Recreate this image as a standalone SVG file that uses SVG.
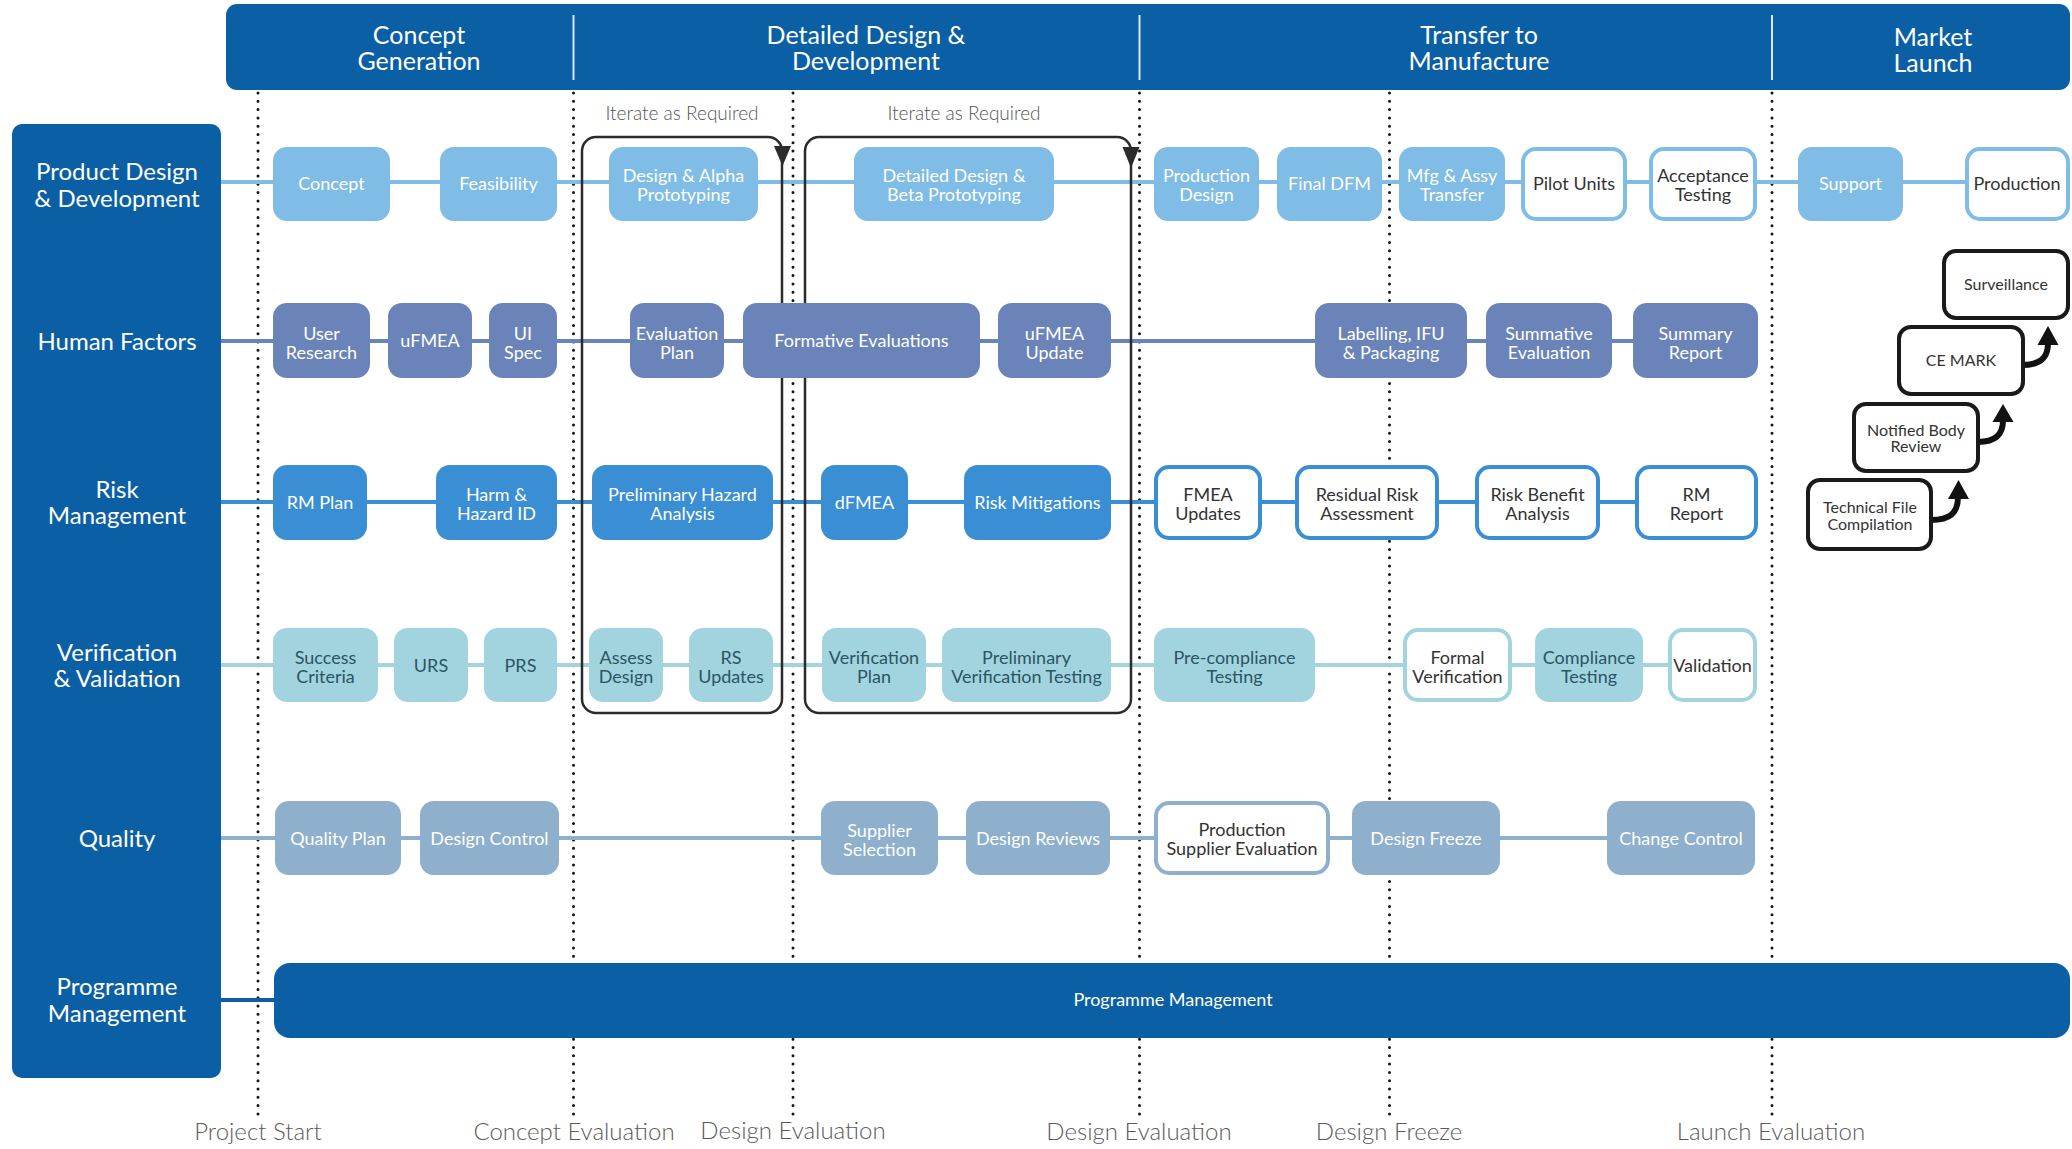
<svg xmlns="http://www.w3.org/2000/svg" width="2072" height="1149" viewBox="0 0 2072 1149">
<style>
text{font-family:Lato,"Open Sans","Liberation Sans",sans-serif;text-anchor:middle}
.hd{fill:#fff;font-size:25px}
.ln{fill:#fff;font-size:24px}
.ms{fill:#5a5a5a;font-size:24px;font-weight:300}
.it{fill:#555;font-size:19px;font-weight:300}
.tw{fill:#fff;font-size:18px}
.tk{fill:#333;font-size:18px}
.tt{fill:#2b5563;font-size:18px}
.tc{fill:#333;font-size:16px}
.dot{stroke:#151515;stroke-width:3;stroke-linecap:round;stroke-dasharray:0 8.3;fill:none}
.f1{fill:#7fbce6}.f2{fill:#6a84ba}.f3{fill:#3a8ed3}.f4{fill:#a2d4e0}.f5{fill:#8eb0cc}
.w1{fill:#fff;stroke:#7fbce6;stroke-width:4}
.w3{fill:#fff;stroke:#3a8ed3;stroke-width:4}
.w4{fill:#fff;stroke:#a2d4e0;stroke-width:4}
.w5{fill:#fff;stroke:#8eb0cc;stroke-width:4}
.wk{fill:#fff;stroke:#1a1a1a;stroke-width:4}
.iter{fill:none;stroke:#2b2b2b;stroke-width:2.5}
.row{stroke-width:4;fill:none}
</style>

<!-- header -->
<g id="header">
<rect x="226" y="4" width="1844" height="86" rx="11" fill="#0b5fa5"/>
<line x1="573.5" y1="15" x2="573.5" y2="80" stroke="#d8e8f4" stroke-width="2"/>
<line x1="1139.5" y1="15" x2="1139.5" y2="80" stroke="#d8e8f4" stroke-width="2"/>
<line x1="1772" y1="15" x2="1772" y2="80" stroke="#d8e8f4" stroke-width="2"/>
<text class="hd" x="419" y="44">Concept</text><text class="hd" x="419" y="70">Generation</text>
<text class="hd" x="866" y="44">Detailed Design &amp;</text><text class="hd" x="866" y="70">Development</text>
<text class="hd" x="1479" y="44">Transfer to</text><text class="hd" x="1479" y="70">Manufacture</text>
<text class="hd" x="1933" y="46">Market</text><text class="hd" x="1933" y="72">Launch</text>
</g>

<!-- lane labels -->
<g id="lanes">
<rect x="12" y="124" width="209" height="954" rx="10" fill="#0b5fa5"/>
<text class="ln" x="117" y="180">Product Design</text><text class="ln" x="117" y="207">&amp; Development</text>
<text class="ln" x="117" y="350">Human Factors</text>
<text class="ln" x="117" y="498">Risk</text><text class="ln" x="117" y="524">Management</text>
<text class="ln" x="117" y="661">Verification</text><text class="ln" x="117" y="687">&amp; Validation</text>
<text class="ln" x="117" y="847">Quality</text>
<text class="ln" x="117" y="995">Programme</text><text class="ln" x="117" y="1022">Management</text>
</g>

<!-- milestones -->
<g id="milestones">
<line class="dot" x1="258" y1="93" x2="258" y2="1117"/>
<line class="dot" x1="573.5" y1="93" x2="573.5" y2="1117"/>
<line class="dot" x1="793" y1="93" x2="793" y2="1117"/>
<line class="dot" x1="1139.5" y1="93" x2="1139.5" y2="1117"/>
<line class="dot" x1="1389.5" y1="93" x2="1389.5" y2="1117"/>
<line class="dot" x1="1772" y1="93" x2="1772" y2="1117"/>
<text class="ms" x="258" y="1140">Project Start</text>
<text class="ms" x="574" y="1140">Concept Evaluation</text>
<text class="ms" x="793" y="1139">Design Evaluation</text>
<text class="ms" x="1139" y="1140">Design Evaluation</text>
<text class="ms" x="1389" y="1140">Design Freeze</text>
<text class="ms" x="1771" y="1140">Launch Evaluation</text>
</g>

<!-- connectors -->
<g id="connectors">
<line class="row" x1="221" y1="182" x2="1970" y2="182" stroke="#7fbce6"/>
<line class="row" x1="221" y1="341" x2="1640" y2="341" stroke="#6a84ba"/>
<line class="row" x1="221" y1="502" x2="1640" y2="502" stroke="#3a8ed3"/>
<line class="row" x1="221" y1="665" x2="1670" y2="665" stroke="#a2d4e0"/>
<line class="row" x1="221" y1="838" x2="1610" y2="838" stroke="#8eb0cc"/>
<line class="row" x1="221" y1="1000" x2="276" y2="1000" stroke="#0b5fa5" stroke-width="5"/>
<rect class="iter" x="582" y="137" width="200" height="576" rx="14"/>
<polygon points="774,146 791,146 782.5,166" fill="#2b2b2b"/>
<rect class="iter" x="805" y="137" width="326" height="576" rx="14"/>
<polygon points="1122.5,147 1139.5,147 1131,168" fill="#2b2b2b"/>
<text class="it" x="682" y="120">Iterate as Required</text>
<text class="it" x="964" y="120">Iterate as Required</text>
<path d="M1931 520 C1950 520 1958 513 1958 497" fill="none" stroke="#111" stroke-width="6"/>
<polygon points="1948,499 1969,499 1958.5,480" fill="#111"/>
<path d="M1978 442 C1995 442 2003 435 2003 420" fill="none" stroke="#111" stroke-width="6"/>
<polygon points="1992.5,422 2013.5,422 2003,404" fill="#111"/>
<path d="M2023 365 C2040 365 2048 358 2048 343" fill="none" stroke="#111" stroke-width="6"/>
<polygon points="2037.5,345 2058.5,345 2048,326" fill="#111"/>
</g>

<!-- Row 1: Product Design & Development -->
<g id="concept"><rect class="f1" x="273" y="147" width="117" height="74" rx="14"/><text class="tw" x="331.5" y="190">Concept</text></g>
<g id="feasibility"><rect class="f1" x="440" y="147" width="117" height="74" rx="14"/><text class="tw" x="498.5" y="190">Feasibility</text></g>
<g id="alpha"><rect class="f1" x="609" y="147" width="149" height="74" rx="14"/><text class="tw" x="683.5" y="182">Design &amp; Alpha</text><text class="tw" x="683.5" y="201">Prototyping</text></g>
<g id="beta"><rect class="f1" x="854" y="147" width="200" height="74" rx="14"/><text class="tw" x="954" y="182">Detailed Design &amp;</text><text class="tw" x="954" y="201">Beta Prototyping</text></g>
<g id="proddesign"><rect class="f1" x="1154" y="147" width="105" height="74" rx="14"/><text class="tw" x="1206.5" y="182">Production</text><text class="tw" x="1206.5" y="201">Design</text></g>
<g id="finaldfm"><rect class="f1" x="1277" y="147" width="105" height="74" rx="14"/><text class="tw" x="1329.5" y="190">Final DFM</text></g>
<g id="mfg"><rect class="f1" x="1399" y="147" width="106" height="74" rx="14"/><text class="tw" x="1452" y="182">Mfg &amp; Assy</text><text class="tw" x="1452" y="201">Transfer</text></g>
<g id="pilot"><rect class="w1" x="1523" y="149" width="102" height="70" rx="13"/><text class="tk" x="1574" y="190">Pilot Units</text></g>
<g id="acceptance"><rect class="w1" x="1651" y="149" width="104" height="70" rx="13"/><text class="tk" x="1703" y="182">Acceptance</text><text class="tk" x="1703" y="201">Testing</text></g>
<g id="support"><rect class="f1" x="1798" y="147" width="105" height="74" rx="14"/><text class="tw" x="1850.5" y="190">Support</text></g>
<g id="production"><rect class="w1" x="1967" y="149" width="101" height="70" rx="13"/><text class="tk" x="2017" y="190">Production</text></g>

<!-- Row 2: Human Factors -->
<g id="userresearch"><rect class="f2" x="273" y="303" width="97" height="75" rx="14"/><text class="tw" x="321.5" y="340">User</text><text class="tw" x="321.5" y="359">Research</text></g>
<g id="ufmea"><rect class="f2" x="388" y="303" width="84" height="75" rx="14"/><text class="tw" x="430" y="347">uFMEA</text></g>
<g id="uispec"><rect class="f2" x="489" y="303" width="68" height="75" rx="14"/><text class="tw" x="523" y="340">UI</text><text class="tw" x="523" y="359">Spec</text></g>
<g id="evalplan"><rect class="f2" x="630" y="303" width="94" height="75" rx="14"/><text class="tw" x="677" y="340">Evaluation</text><text class="tw" x="677" y="359">Plan</text></g>
<g id="formative"><rect class="f2" x="743" y="303" width="237" height="75" rx="14"/><text class="tw" x="861.5" y="347">Formative Evaluations</text></g>
<g id="ufmeaupdate"><rect class="f2" x="998" y="303" width="113" height="75" rx="14"/><text class="tw" x="1054.5" y="340">uFMEA</text><text class="tw" x="1054.5" y="359">Update</text></g>
<g id="labelling"><rect class="f2" x="1315" y="303" width="152" height="75" rx="14"/><text class="tw" x="1391" y="340">Labelling, IFU</text><text class="tw" x="1391" y="359">&amp; Packaging</text></g>
<g id="summative"><rect class="f2" x="1486" y="303" width="126" height="75" rx="14"/><text class="tw" x="1549" y="340">Summative</text><text class="tw" x="1549" y="359">Evaluation</text></g>
<g id="summary"><rect class="f2" x="1633" y="303" width="125" height="75" rx="14"/><text class="tw" x="1695.5" y="340">Summary</text><text class="tw" x="1695.5" y="359">Report</text></g>

<!-- Row 3: Risk Management -->
<g id="rmplan"><rect class="f3" x="273" y="465" width="94" height="75" rx="14"/><text class="tw" x="320" y="509">RM Plan</text></g>
<g id="harm"><rect class="f3" x="436" y="465" width="121" height="75" rx="14"/><text class="tw" x="496.5" y="501">Harm &amp;</text><text class="tw" x="496.5" y="520">Hazard ID</text></g>
<g id="pha"><rect class="f3" x="592" y="465" width="181" height="75" rx="14"/><text class="tw" x="682.5" y="501">Preliminary Hazard</text><text class="tw" x="682.5" y="520">Analysis</text></g>
<g id="dfmea"><rect class="f3" x="821" y="465" width="87" height="75" rx="14"/><text class="tw" x="864.5" y="509">dFMEA</text></g>
<g id="riskmit"><rect class="f3" x="964" y="465" width="147" height="75" rx="14"/><text class="tw" x="1037.5" y="509">Risk Mitigations</text></g>
<g id="fmeaupdates"><rect class="w3" x="1156" y="467" width="104" height="71" rx="13"/><text class="tk" x="1208" y="501">FMEA</text><text class="tk" x="1208" y="520">Updates</text></g>
<g id="residual"><rect class="w3" x="1297" y="467" width="140" height="71" rx="13"/><text class="tk" x="1367" y="501">Residual Risk</text><text class="tk" x="1367" y="520">Assessment</text></g>
<g id="riskbenefit"><rect class="w3" x="1477" y="467" width="121" height="71" rx="13"/><text class="tk" x="1537.5" y="501">Risk Benefit</text><text class="tk" x="1537.5" y="520">Analysis</text></g>
<g id="rmreport"><rect class="w3" x="1637" y="467" width="119" height="71" rx="13"/><text class="tk" x="1696.5" y="501">RM</text><text class="tk" x="1696.5" y="520">Report</text></g>

<!-- Row 4: Verification & Validation -->
<g id="success"><rect class="f4" x="273" y="628" width="105" height="74" rx="14"/><text class="tt" x="325.5" y="664">Success</text><text class="tt" x="325.5" y="683">Criteria</text></g>
<g id="urs"><rect class="f4" x="394" y="628" width="74" height="74" rx="14"/><text class="tt" x="431" y="672">URS</text></g>
<g id="prs"><rect class="f4" x="484" y="628" width="73" height="74" rx="14"/><text class="tt" x="520.5" y="672">PRS</text></g>
<g id="assess"><rect class="f4" x="589" y="628" width="74" height="74" rx="14"/><text class="tt" x="626" y="664">Assess</text><text class="tt" x="626" y="683">Design</text></g>
<g id="rsupdates"><rect class="f4" x="689" y="628" width="84" height="74" rx="14"/><text class="tt" x="731" y="664">RS</text><text class="tt" x="731" y="683">Updates</text></g>
<g id="verplan"><rect class="f4" x="822" y="628" width="104" height="74" rx="14"/><text class="tt" x="874" y="664">Verification</text><text class="tt" x="874" y="683">Plan</text></g>
<g id="prelimver"><rect class="f4" x="942" y="628" width="169" height="74" rx="14"/><text class="tt" x="1026.5" y="664">Preliminary</text><text class="tt" x="1026.5" y="683">Verification Testing</text></g>
<g id="precomp"><rect class="f4" x="1154" y="628" width="161" height="74" rx="14"/><text class="tt" x="1234.5" y="664">Pre-compliance</text><text class="tt" x="1234.5" y="683">Testing</text></g>
<g id="formal"><rect class="w4" x="1405" y="630" width="105" height="70" rx="13"/><text class="tk" x="1457.5" y="664">Formal</text><text class="tk" x="1457.5" y="683">Verification</text></g>
<g id="compliance"><rect class="f4" x="1535" y="628" width="108" height="74" rx="14"/><text class="tt" x="1589" y="664">Compliance</text><text class="tt" x="1589" y="683">Testing</text></g>
<g id="validation"><rect class="w4" x="1670" y="630" width="85" height="70" rx="13"/><text class="tk" x="1712.5" y="672">Validation</text></g>

<!-- Row 5: Quality -->
<g id="qplan"><rect class="f5" x="275" y="801" width="126" height="74" rx="14"/><text class="tw" x="338" y="845">Quality Plan</text></g>
<g id="dcontrol"><rect class="f5" x="420" y="801" width="139" height="74" rx="14"/><text class="tw" x="489.5" y="845">Design Control</text></g>
<g id="supsel"><rect class="f5" x="821" y="801" width="117" height="74" rx="14"/><text class="tw" x="879.5" y="837">Supplier</text><text class="tw" x="879.5" y="856">Selection</text></g>
<g id="dreviews"><rect class="f5" x="966" y="801" width="144" height="74" rx="14"/><text class="tw" x="1038" y="845">Design Reviews</text></g>
<g id="prodsup"><rect class="w5" x="1156" y="803" width="172" height="70" rx="13"/><text class="tk" x="1242" y="836">Production</text><text class="tk" x="1242" y="855">Supplier Evaluation</text></g>
<g id="dfreeze"><rect class="f5" x="1352" y="801" width="148" height="74" rx="14"/><text class="tw" x="1426" y="845">Design Freeze</text></g>
<g id="cchange"><rect class="f5" x="1607" y="801" width="148" height="74" rx="14"/><text class="tw" x="1681" y="845">Change Control</text></g>

<!-- Row 6: Programme Management -->
<g id="progmgmt"><rect x="274" y="963" width="1796" height="75" rx="16" fill="#0b5fa5"/><text class="tw" x="1173" y="1006">Programme Management</text></g>

<!-- Market launch regulatory chain -->
<g id="surveillance"><rect class="wk" x="1944" y="251" width="124" height="67" rx="12"/><text class="tc" x="2006" y="290">Surveillance</text></g>
<g id="cemark"><rect class="wk" x="1899" y="327" width="124" height="67" rx="12"/><text class="tc" x="1961" y="366">CE MARK</text></g>
<g id="notified"><rect class="wk" x="1854" y="404" width="124" height="67" rx="12"/><text class="tc" x="1916" y="436">Notified Body</text><text class="tc" x="1916" y="452">Review</text></g>
<g id="techfile"><rect class="wk" x="1808" y="480" width="123" height="69" rx="12"/><text class="tc" x="1870" y="513">Technical File</text><text class="tc" x="1870" y="530">Compilation</text></g>
</svg>
